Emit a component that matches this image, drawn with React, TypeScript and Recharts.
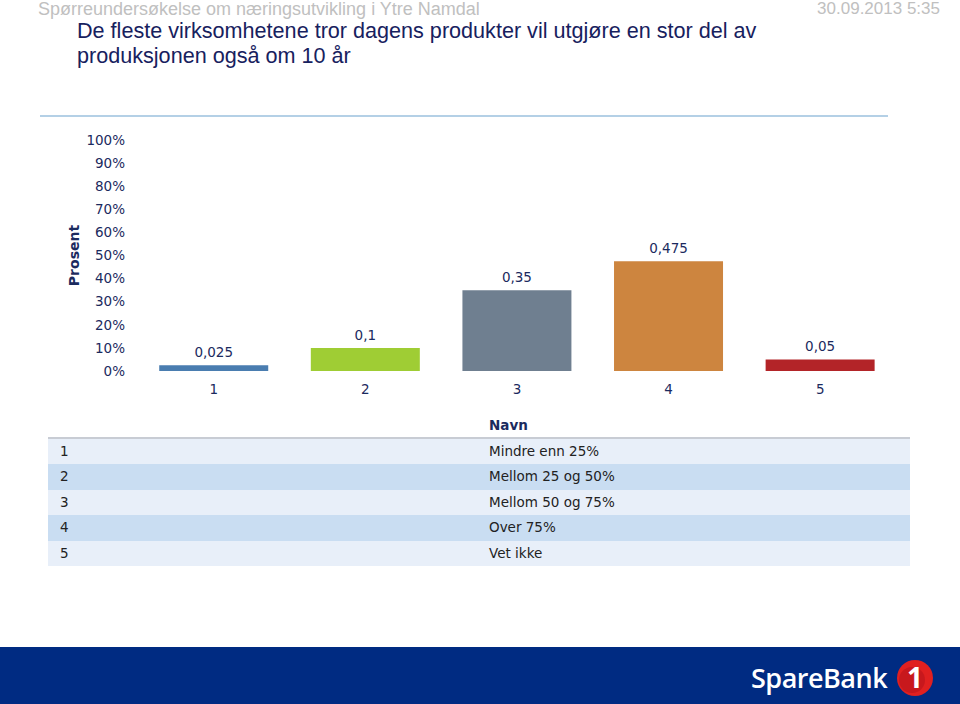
import React from "react";
import { BarChart, Bar, XAxis, YAxis, Cell, LabelList } from "recharts";

// answer categories (x axis) and share of respondents
const categories = ["1", "2", "3", "4", "5"];
const shares = [0.025, 0.1, 0.35, 0.475, 0.05];
const barColors = ["#4a7db0", "#9fcd34", "#6f7f90", "#cd853f", "#b32428"];
const yTicks = [0, 0.1, 0.2, 0.3, 0.4, 0.5, 0.6, 0.7, 0.8, 0.9, 1];

// legend table below the chart
const tableIds = ["1", "2", "3", "4", "5"];
const tableNames = ["Mindre enn 25%", "Mellom 25 og 50%", "Mellom 50 og 75%", "Over 75%", "Vet ikke"];

const navy = "#1b2a5e";
const font = "'DejaVu Sans', Verdana, sans-serif";

const data = categories.map((c, i) => ({ name: c, value: shares[i] }));

function Logo() {
    return (
        <div style={{ position: "absolute", left: 0, top: 647, width: 960, height: 57, background: "#002b82" }}>
            <div
                style={{
                    position: "absolute",
                    left: 751,
                    top: 12,
                    color: "#fff",
                    fontFamily: "'Open Sans', sans-serif",
                    fontWeight: 600,
                    fontSize: 27,
                    letterSpacing: -0.5,
                }}
            >
                SpareBank
            </div>
            <svg style={{ position: "absolute", left: 892, top: 10 }} width={48} height={42}>
                <circle cx={23} cy={21} r={18} fill="#e02020" />
                <circle cx={20} cy={23} r={13} fill="#b0101a" opacity={0.5} />
                <text x={23} y={31} textAnchor="middle" fill="#fff" fontFamily="'Open Sans', sans-serif" fontWeight={700} fontSize={28}>
                    1
                </text>
            </svg>
        </div>
    );
}

export default function App() {
    return (
        <div style={{ position: "absolute", left: 0, top: 0, width: 960, height: 704, background: "#fff", overflow: "hidden" }}>
            <div style={{ position: "absolute", left: 38, top: 0, lineHeight: "18px", fontFamily: "'Liberation Sans Narrow', sans-serif", fontSize: 18, color: "#c0c0c0" }}>
                Spørreundersøkelse om næringsutvikling i Ytre Namdal
            </div>
            <div style={{ position: "absolute", right: 20, top: 0, lineHeight: "18px", fontFamily: "'Liberation Sans Narrow', sans-serif", fontSize: 17, color: "#c0c0c0" }}>
                30.09.2013 5:35
            </div>
            <div
                style={{
                    position: "absolute",
                    left: 77,
                    top: 18,
                    width: 760,
                    fontFamily: "'Liberation Sans Narrow', sans-serif",
                    fontSize: 21.6,
                    lineHeight: "25px",
                    color: "#17215e",
                }}
            >
                De fleste virksomhetene tror dagens produkter vil utgjøre en stor del av
                <br />
                produksjonen også om 10 år
            </div>
            <div style={{ position: "absolute", left: 40, top: 115, width: 848, height: 2, background: "#b4d0e6" }} />

            <div style={{ position: "absolute", left: 0, top: 120 }}>
                <BarChart width={960} height={300} data={data} margin={{ top: 20, right: 64, left: 0, bottom: 0 }} barCategoryGap="14%">
                    <XAxis
                        dataKey="name"
                        height={49}
                        axisLine={false}
                        tickLine={false}
                        tickMargin={7}
                        tick={{ fontSize: 13.5, fill: navy, fontFamily: font }}
                    />
                    <YAxis
                        width={138}
                        domain={[0, 1]}
                        ticks={yTicks}
                        interval={0}
                        axisLine={false}
                        tickLine={false}
                        tickMargin={7}
                        tickFormatter={(v: number) => `${Math.round(v * 100)}%`}
                        tick={{ fontSize: 13.5, fill: navy, fontFamily: font }}
                        label={{
                            value: "Prosent",
                            angle: -90,
                            position: "insideLeft",
                            offset: 74,
                            style: { fontSize: 14, fontWeight: 700, fill: navy, fontFamily: font, textAnchor: "middle" },
                        }}
                    />
                    <Bar dataKey="value" isAnimationActive={false}>
                        {data.map((d, i) => (
                            <Cell key={d.name} fill={barColors[i]} />
                        ))}
                        <LabelList
                            dataKey="value"
                            position="top"
                            offset={8}
                            formatter={(v: number) => String(v).replace(".", ",")}
                            style={{ fontSize: 13.5, fill: navy, fontFamily: font }}
                        />
                    </Bar>
                </BarChart>
            </div>

            <div style={{ position: "absolute", left: 48, top: 414, width: 862, fontFamily: font, fontSize: 13.5, color: "#222" }}>
                <div style={{ height: 23, borderBottom: "2px solid #c8ccd4", position: "relative" }}>
                    <span style={{ position: "absolute", left: 441, top: 3, fontWeight: 700, color: navy }}>Navn</span>
                </div>
                {tableIds.map((id, i) => (
                    <div key={id} style={{ height: 25.4, position: "relative", background: i % 2 === 0 ? "#e8eff9" : "#c9ddf2" }}>
                        <span style={{ position: "absolute", left: 12, top: 4 }}>{id}</span>
                        <span style={{ position: "absolute", left: 441, top: 4 }}>{tableNames[i]}</span>
                    </div>
                ))}
            </div>

            <Logo />
        </div>
    );
}
